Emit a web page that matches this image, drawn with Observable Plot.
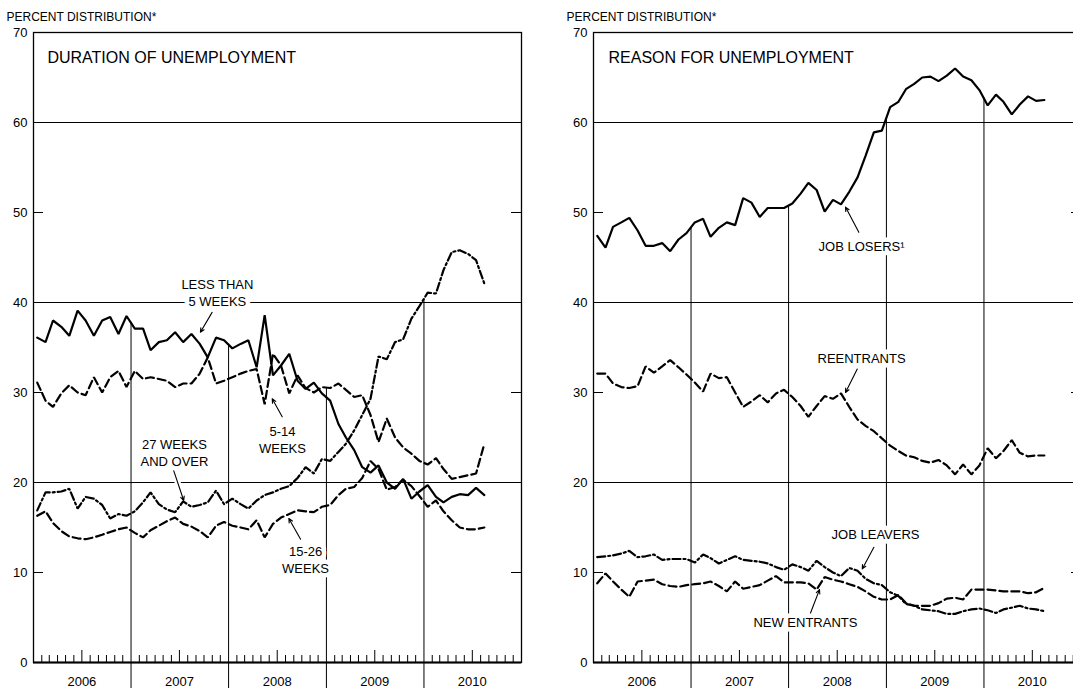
<!DOCTYPE html>
<html><head><meta charset="utf-8">
<script src="https://cdn.jsdelivr.net/npm/d3@7"></script>
<script src="https://cdn.jsdelivr.net/npm/@observablehq/plot@0.6"></script>
<style>
html,body{margin:0;padding:0;background:#fff;}
#wrap{position:relative;width:1073px;height:692px;overflow:hidden;background:#fff;}
#left,#right{position:absolute;top:0;width:560px;height:692px;}
#left{left:0;}
#right{left:560px;}
#left svg,#right svg{max-width:none !important;width:560px !important;height:692px !important;display:block;}
</style></head>
<body><div id="wrap"><div id="left"></div><div id="right"></div></div>
<script>
// ---------- data (monthly, Jan 2006 - Aug 2010) ----------
const years = [2006, 2007, 2008, 2009, 2010];
const yTicks = [0, 10, 20, 30, 40, 50, 60, 70];
const gridValues = [20, 40, 60];
const minorYTicks = [10, 30, 50, 70];
const axisTitle = "PERCENT DISTRIBUTION*";

const lessThan5Weeks = [
  36.1, 35.6, 38.0, 37.3, 36.3, 39.1, 38.0, 36.3, 38.0, 38.4, 36.5, 38.5,
  37.1, 37.1, 34.7, 35.6, 35.8, 36.7, 35.6, 36.5, 35.4, 33.9, 36.1, 35.8,
  34.9, 35.4, 35.8, 32.8, 38.6, 31.9, 33.0, 34.3, 31.3, 30.4, 31.1, 29.9,
  29.1, 26.5, 25.0, 23.6, 21.7, 21.1, 21.9, 20.0, 19.3, 20.4, 18.2, 19.0,
  19.7, 18.4, 17.8, 18.4, 18.7, 18.6, 19.4, 18.6];
const weeks5to14 = [
  31.1, 29.1, 28.4, 29.9, 30.8, 30.0, 29.7, 31.7, 30.0, 31.7, 32.4, 30.6,
  32.4, 31.5, 31.7, 31.5, 31.3, 30.6, 31.0, 31.0, 32.1, 33.9, 31.0, 31.3,
  31.7, 32.1, 32.4, 32.6, 28.7, 34.3, 33.0, 29.9, 31.9, 30.5, 30.0, 30.6,
  30.5, 31.0, 30.3, 29.5, 29.7, 27.5, 24.5, 27.1, 25.0, 23.9, 23.2, 22.4,
  22.0, 22.7, 21.5, 20.4, 20.6, 20.8, 21.0, 24.3];
const weeks15to26 = [
  16.3, 16.8, 15.5, 14.6, 14.0, 13.8, 13.7, 13.9, 14.2, 14.5, 14.8, 15.0,
  14.4, 13.9, 14.7, 15.2, 15.7, 16.1, 15.4, 15.1, 14.6, 13.9, 15.2, 15.6,
  15.2, 15.0, 14.8, 15.8, 13.9, 15.4, 16.1, 16.5, 16.9, 16.8, 16.7, 17.3,
  17.5, 18.6, 19.3, 19.5, 20.5, 22.4, 21.5, 19.2, 19.5, 20.3, 19.6, 18.5,
  17.3, 18.0, 16.8, 15.8, 15.0, 14.8, 14.8, 15.0];
const weeks27andOver = [
  16.9, 18.9, 18.9, 19.0, 19.3, 17.1, 18.4, 18.2, 17.5, 16.0, 16.5, 16.3,
  16.8, 17.8, 18.9, 17.6, 17.0, 16.7, 17.9, 17.3, 17.5, 17.8, 19.1, 17.6,
  18.2, 17.6, 17.1, 18.0, 18.6, 18.9, 19.3, 19.6, 20.5, 21.7, 21.0, 22.6,
  22.4, 23.4, 24.3, 25.8, 27.5, 29.3, 34.0, 33.7, 35.6, 35.9, 38.2, 39.6,
  41.1, 41.0, 43.6, 45.6, 45.8, 45.4, 44.7, 42.1];

const jobLosers = [
  47.4, 46.1, 48.4, 48.9, 49.4, 48.0, 46.3, 46.3, 46.6, 45.7, 47.0, 47.7,
  48.9, 49.3, 47.3, 48.3, 48.9, 48.6, 51.6, 51.1, 49.5, 50.5, 50.5, 50.5,
  51.0, 52.1, 53.3, 52.5, 50.1, 51.4, 50.9, 52.3, 53.9, 56.3, 58.9, 59.1,
  61.7, 62.3, 63.7, 64.3, 65.0, 65.1, 64.6, 65.2, 66.0, 65.1, 64.7, 63.6,
  61.9, 63.1, 62.3, 60.9, 62.0, 62.9, 62.4, 62.5];
const reentrants = [
  32.1, 32.1, 31.0, 30.6, 30.5, 30.7, 32.9, 32.2, 32.9, 33.6, 32.8, 32.0,
  31.1, 30.1, 32.1, 31.6, 31.7, 30.0, 28.4, 29.0, 29.7, 28.9, 29.9, 30.3,
  29.5, 28.5, 27.3, 28.5, 29.6, 29.3, 29.9, 28.4, 27.0, 26.3, 25.7, 24.9,
  24.1, 23.5, 23.0, 22.8, 22.4, 22.2, 22.5, 21.9, 20.9, 22.0, 20.9, 21.9,
  23.8, 22.7, 23.5, 24.7, 23.3, 22.9, 23.0, 23.0];
const jobLeavers = [
  11.7, 11.8, 11.9, 12.1, 12.4, 11.7, 11.8, 12.0, 11.4, 11.5, 11.5, 11.5,
  11.1, 12.0, 11.6, 11.0, 11.4, 11.8, 11.4, 11.3, 11.2, 11.0, 10.6, 10.3,
  10.9, 10.6, 10.2, 11.3, 10.6, 10.0, 9.6, 10.5, 10.2, 9.3, 8.8, 8.6,
  7.8, 7.4, 6.5, 6.3, 5.9, 5.8, 5.7, 5.4, 5.4, 5.7, 5.9, 6.0,
  5.8, 5.5, 5.9, 6.1, 6.3, 6.0, 5.9, 5.7];
const newEntrants = [
  8.8, 9.9, 9.0, 8.1, 7.3, 9.0, 9.1, 9.2, 8.7, 8.5, 8.4, 8.6,
  8.7, 8.8, 9.0, 8.5, 7.9, 9.0, 8.2, 8.4, 8.6, 9.1, 9.6, 8.9,
  8.9, 8.9, 8.8, 8.1, 9.5, 9.2, 9.0, 8.7, 8.4, 7.9, 7.3, 7.0,
  7.0, 7.5, 6.6, 6.3, 6.3, 6.3, 6.6, 7.1, 7.2, 7.0, 8.1, 8.1,
  8.1, 8.0, 7.9, 7.9, 7.9, 7.7, 7.8, 8.3];

// annotations (x in decimal years, y in percent)
const durationLabels = [
  {text: "DURATION OF UNEMPLOYMENT", x: 2006.143, y: 67.2, title: true},
  {text: "LESS THAN\n5 WEEKS", x: 2007.885, y: 41.2},
  {text: "5-14\nWEEKS", x: 2008.551, y: 24.8},
  {text: "27 WEEKS\nAND OVER", x: 2007.445, y: 23.4},
  {text: "15-26\nWEEKS", x: 2008.787, y: 11.5}
];
const durationArrows = [
  {x1: 2007.831, y1: 38.9, x2: 2007.711, y2: 36.7},
  {x1: 2008.548, y1: 27.3, x2: 2008.446, y2: 29.3},
  {x1: 2007.438, y1: 21.3, x2: 2007.540, y2: 18.0},
  {x1: 2008.736, y1: 13.7, x2: 2008.616, y2: 16.0}
];
const reasonLabels = [
  {text: "REASON FOR UNEMPLOYMENT", x: 2006.154, y: 67.2, title: true},
  {text: "JOB LOSERS\u00B9", x: 2008.746, y: 46.3},
  {text: "REENTRANTS", x: 2008.746, y: 33.9},
  {text: "JOB LEAVERS", x: 2008.889, y: 14.3},
  {text: "NEW ENTRANTS", x: 2008.172, y: 4.5}
];
const reasonArrows = [
  {x1: 2008.718, y1: 47.8, x2: 2008.582, y2: 50.6},
  {x1: 2008.702, y1: 32.6, x2: 2008.582, y2: 30.0},
  {x1: 2008.872, y1: 12.8, x2: 2008.753, y2: 10.4},
  {x1: 2008.224, y1: 5.5, x2: 2008.316, y2: 8.1}
];

// ---------- helpers ----------
const months = d3.range(lessThan5Weeks.length).map(i => new Date(Date.UTC(2006, i, 15)));
function decYear(y) {
  const yr = Math.floor(y);
  const a = Date.UTC(yr, 0, 1), b = Date.UTC(yr + 1, 0, 1);
  return new Date(a + (y - yr) * (b - a));
}
const DASH = "8,4";
const DASHDOT = "8,3,2,3";
const FONT = "'Liberation Sans', Arial, sans-serif";

function panel(series, labels, arrows) {
  const boundaries = [2007, 2008, 2009, 2010].map(yr => {
    const i = (yr - 2006) * 12;
    const top = d3.max(series, s => (s.values[i - 1] + s.values[i]) / 2);
    return {date: new Date(Date.UTC(yr, 0, 1)), top, bottom: 0};
  });
  const monthTicks = d3.utcMonth.range(new Date(Date.UTC(2006, 1, 1)), new Date(Date.UTC(2011, 0, 1)))
    .filter(d => d.getUTCMonth() !== 0);
  const shortTicks = monthTicks.filter(d => d.getUTCMonth() !== 6);
  const longTicks = monthTicks.filter(d => d.getUTCMonth() === 6);
  const frameW = 560 - 33 - 39;
  return Plot.plot({
    width: 560, height: 692,
    marginLeft: 33, marginRight: 39, marginTop: 32, marginBottom: 30,
    x: {type: "utc", domain: [new Date(Date.UTC(2006, 0, 1)), new Date(Date.UTC(2011, 0, 1))], axis: null},
    y: {domain: [0, 70]},
    style: {fontFamily: FONT, background: "white", color: "black"},
    marks: [
      Plot.ruleY(gridValues, {stroke: "black", strokeWidth: 1}),
      Plot.ruleX(boundaries, {x: "date", y1: "top", y2: "bottom", stroke: "black", strokeWidth: 1}),
      Plot.tickX(boundaries, {x: "date", insetTop: 630, insetBottom: -26, stroke: "black", strokeWidth: 1}),
      Plot.tickX(shortTicks, {x: d => d, insetTop: 623, stroke: "black", strokeWidth: 1}),
      Plot.tickX(longTicks, {x: d => d, insetTop: 618, stroke: "black", strokeWidth: 1}),
      Plot.tickY(minorYTicks, {y: d => d, insetRight: frameW - 10, stroke: "black"}),
      Plot.tickY(minorYTicks, {y: d => d, insetLeft: frameW - 10, stroke: "black"}),
      Plot.frame({stroke: "black", strokeWidth: 1.3}),
      Plot.ruleY([0], {stroke: "black", strokeWidth: 1.8}),
      Plot.axisY(yTicks, {tickSize: 0, tickPadding: 6, fontSize: 13, label: null, anchor: "left"}),
      Plot.text(years, {x: d => new Date(Date.UTC(d, 6, 1)), y: () => 0, dy: 19, text: d => String(d), fontSize: 13, fill: "black"}),
      Plot.text([axisTitle], {frameAnchor: "top-left", text: d => d, dx: -27, dy: -20, textAnchor: "start", fontSize: 12, letterSpacing: "-0.4px", fill: "black"}),
      Plot.link(arrows, {x1: d => decYear(d.x1), y1: "y1", x2: d => decYear(d.x2), y2: "y2", stroke: "white", strokeWidth: 6}),
      Plot.text(labels.filter(d => d.title), {x: d => decYear(d.x), y: "y", text: "text", textAnchor: "start", fontSize: 16, fill: "black"}),
      Plot.text(labels.filter(d => !d.title), {x: d => decYear(d.x), y: "y", text: "text", fontSize: 13, lineHeight: 1.3, fill: "black", stroke: "white", strokeWidth: 9}),
      ...series.map(s => Plot.line(s.values, {x: (d, i) => months[i], y: d => d, stroke: "black", strokeWidth: 2.2, strokeDasharray: s.dash, strokeLinejoin: "miter"})),
      Plot.arrow(arrows, {x1: d => decYear(d.x1), y1: "y1", x2: d => decYear(d.x2), y2: "y2", stroke: "black", strokeWidth: 1.1, headLength: 6, headAngle: 50})
    ]
  });
}

document.getElementById("left").append(panel([
  {values: lessThan5Weeks, dash: null},
  {values: weeks5to14, dash: DASH},
  {values: weeks15to26, dash: DASH},
  {values: weeks27andOver, dash: DASHDOT}
], durationLabels, durationArrows));

document.getElementById("right").append(panel([
  {values: jobLosers, dash: null},
  {values: reentrants, dash: DASH},
  {values: jobLeavers, dash: DASHDOT},
  {values: newEntrants, dash: DASH}
], reasonLabels, reasonArrows));
</script>
</body></html>
